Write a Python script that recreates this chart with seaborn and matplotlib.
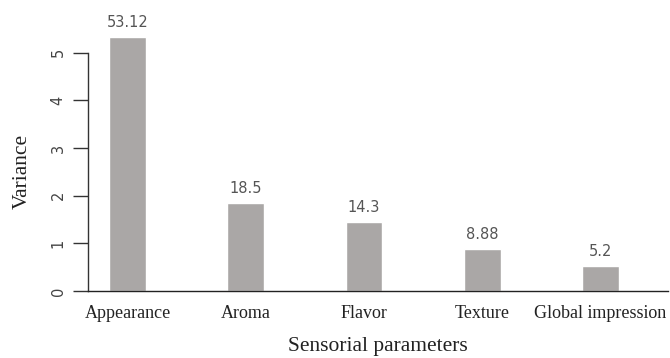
import matplotlib
matplotlib.use("Agg")
import matplotlib.pyplot as plt
import seaborn as sns
import pandas as pd

categories = ["Appearance", "Aroma", "Flavor", "Texture", "Global impression"]
variance = [5.34, 1.855, 1.443, 0.88, 0.52]
percent_labels = ["53.12", "18.5", "14.3", "8.88", "5.2"]

df = pd.DataFrame({"param": categories, "variance": variance})

sns.set_style("white")
fig = plt.figure(figsize=(6.7, 3.58), dpi=100)
ax = fig.add_axes([88/670, 67/358, (668-88)/670, 291/358])

sns.barplot(data=df, x="param", y="variance", color="#aaa7a6", width=0.31,
            saturation=1, ax=ax)

ax.set_xlim(-0.334, 4.57)
ax.set_ylim(0, 6.11)

for p, lab in zip(ax.patches, percent_labels):
    ax.annotate(lab, (p.get_x() + p.get_width() / 2, p.get_height()),
                xytext=(0, 5), textcoords="offset points", ha="center", va="bottom",
                fontsize=10.5, color="#555555", family="DejaVu Sans")

ax.set_yticks([0, 1, 2, 3, 4, 5])
ax.set_yticklabels(["0", "1", "2", "3", "4", "5"], rotation=90, va="center",
                   family="DejaVu Sans", fontsize=10.5, color="#444444")
ax.tick_params(axis="y", length=11, width=1, color="#333333", pad=5, left=True)
ax.tick_params(axis="x", length=0, pad=10)
for t in ax.get_xticklabels():
    t.set_family("Liberation Serif")
    t.set_fontsize(13)
    t.set_color("#222222")

for s in ["top", "right"]:
    ax.spines[s].set_visible(False)
ax.spines["left"].set_bounds(0, 5)
ax.spines["left"].set_color("#333333")
ax.spines["bottom"].set_color("#222222")
ax.spines["left"].set_linewidth(1)
ax.spines["bottom"].set_linewidth(1)

ax.set_xlabel("Sensorial parameters", family="Liberation Serif", fontsize=15.5,
              color="#222222", labelpad=11)
ax.set_ylabel("Variance", family="Liberation Serif", fontsize=15.5,
              color="#222222", labelpad=13.5)
ax.yaxis.label.set_y(2.5 / 6.11)

fig.savefig("out.png", dpi=100)
